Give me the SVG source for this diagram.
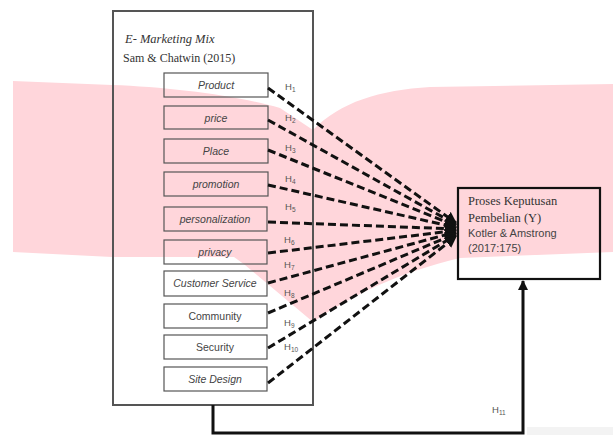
<svg xmlns="http://www.w3.org/2000/svg" width="613" height="435" viewBox="0 0 613 435">
<style>
.ib{fill:none;stroke:#555;stroke-width:1.2}
.it{font-family:"Liberation Sans",Arial,sans-serif;font-size:10.5px;fill:#444;text-anchor:middle;font-style:italic}
.up{font-style:normal}
.h{font-family:"Liberation Sans",Arial,sans-serif;font-size:9.5px;fill:#555}
.sub{font-size:6.5px}
.dash{fill:none;stroke:#111;stroke-width:3;stroke-dasharray:8 4;marker-end:url(#ah)}
.ser{font-family:"Liberation Serif","Times New Roman",serif;fill:#333}
.san{font-family:"Liberation Sans",Arial,sans-serif;fill:#444}
</style>
<defs>
<marker id="ah" viewBox="0 0 10 10" refX="9" refY="5" markerWidth="4" markerHeight="4" orient="auto" markerUnits="strokeWidth">
<path d="M0,0 L10,5 L0,10 Z" fill="#111"/>
</marker>
<marker id="ah2" viewBox="0 0 10 10" refX="9" refY="5" markerWidth="3.5" markerHeight="3.5" orient="auto" markerUnits="strokeWidth">
<path d="M0,0 L10,5 L0,10 Z" fill="#111"/>
</marker>
</defs>
<rect width="613" height="435" fill="#fff"/>
<path id="pink" d="M13,81 L112,85 C170,87 240,96 280,108 L313,130 C340,102 380,90 430,87 L613,84 L613,252 L460,258 C400,272 350,296 313,322 L245,265 L234,257 L112,257 L13,252 Z" fill="#ffd6db"/>
<rect x="527" y="427" width="86" height="8" fill="#f3f3f3"/>

<g id="emix">
<rect x="113" y="11" width="200" height="394" fill="none" stroke="#555" stroke-width="2"/>
<text x="125" y="43" class="ser" font-size="12.5" font-style="italic">E- Marketing Mix</text>
<text x="123" y="62" class="ser" font-size="12">Sam &amp; Chatwin (2015)</text>
</g>

<g id="n-product"><rect class="ib" x="164" y="73" width="104" height="24"/><text class="it" x="216" y="89">Product</text></g>
<g id="n-price"><rect class="ib" x="164" y="106" width="104" height="23"/><text class="it" x="216" y="121.5">price</text></g>
<g id="n-place"><rect class="ib" x="164" y="139" width="104" height="24"/><text class="it" x="216" y="155">Place</text></g>
<g id="n-promotion"><rect class="ib" x="164" y="172" width="104" height="24"/><text class="it" x="216" y="188">promotion</text></g>
<g id="n-personalization"><rect class="ib" x="164" y="207" width="103" height="24"/><text class="it" x="215" y="223">personalization</text></g>
<g id="n-privacy"><rect class="ib" x="164" y="240" width="103" height="24"/><text class="it" x="215" y="256">privacy</text></g>
<g id="n-customer"><rect class="ib" x="164" y="271" width="103" height="25"/><text class="it" x="215" y="287">Customer Service</text></g>
<g id="n-community"><rect class="ib" x="164" y="304" width="103" height="24"/><text class="it up" x="215" y="320">Community</text></g>
<g id="n-security"><rect class="ib" x="164" y="335" width="103" height="24"/><text class="it up" x="215" y="351">Security</text></g>
<g id="n-sitedesign"><rect class="ib" x="164" y="367" width="103" height="24"/><text class="it" x="215" y="383">Site Design</text></g>

<g id="n-proses">
<rect x="458" y="188" width="142" height="91" fill="none" stroke="#111" stroke-width="2.2"/>
<text x="468" y="205" class="ser" font-size="12.5">Proses Keputusan</text>
<text x="468" y="222" class="ser" font-size="12.5">Pembelian (Y)</text>
<text x="468" y="237" class="san" font-size="11">Kotler &amp; Amstrong</text>
<text x="468" y="252" class="san" font-size="11">(2017:175)</text>
</g>

<g id="connectors">
<path class="dash" d="M268,88 L456,223"/>
<path class="dash" d="M268,120 L456,224.5"/>
<path class="dash" d="M268,150 L456,226"/>
<path class="dash" d="M268,185 L456,227.5"/>
<path class="dash" d="M268,222 L456,229"/>
<path class="dash" d="M268,253 L456,230.5"/>
<path class="dash" d="M268,283 L456,232"/>
<path class="dash" d="M268,313 L456,233.5"/>
<path class="dash" d="M268,348 L456,235"/>
<path class="dash" d="M268,383 L456,236.5"/>
<path d="M213,405 L213,433 L523,433 L523,281" fill="none" stroke="#111" stroke-width="3" marker-end="url(#ah2)"/>
</g>

<g id="labels">
<text class="h" x="285" y="90">H<tspan class="sub" dy="2">1</tspan></text>
<text class="h" x="285" y="121">H<tspan class="sub" dy="2">2</tspan></text>
<text class="h" x="285" y="151">H<tspan class="sub" dy="2">3</tspan></text>
<text class="h" x="285" y="182">H<tspan class="sub" dy="2">4</tspan></text>
<text class="h" x="285" y="210">H<tspan class="sub" dy="2">5</tspan></text>
<text class="h" x="284" y="243">H<tspan class="sub" dy="2">6</tspan></text>
<text class="h" x="284" y="268">H<tspan class="sub" dy="2">7</tspan></text>
<text class="h" x="284" y="296">H<tspan class="sub" dy="2">8</tspan></text>
<text class="h" x="284" y="326">H<tspan class="sub" dy="2">9</tspan></text>
<text class="h" x="284" y="350">H<tspan class="sub" dy="2">10</tspan></text>
<text class="h" x="492" y="413">H<tspan class="sub" dy="2">11</tspan></text>
</g>
</svg>
